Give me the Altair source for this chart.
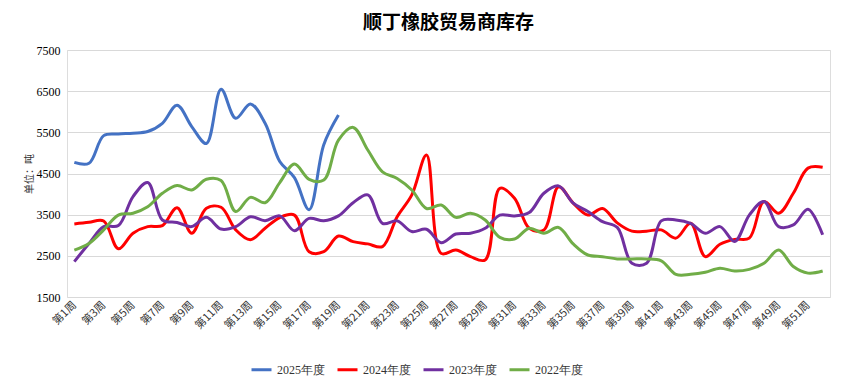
import altair as alt
import pandas as pd

weeks = [f"第{i}周" for i in range(1, 53)]
label_weeks = [f"第{i}周" for i in range(1, 53, 2)]

s2025 = [4770, 4750, 5420, 5460, 5480, 5520, 5720, 6160, 5640, 5230, 6545, 5840, 6190, 5720, 4790, 4400, 3620, 5200, 5920]
s2024 = [3275, 3315, 3345, 2670, 3050, 3210, 3235, 3670, 3050, 3655, 3680, 3130, 2890, 3170, 3430, 3490, 2600, 2600, 2980, 2845,
         2790, 2725, 3450, 3980, 4950, 2560, 2640, 2480, 2400, 4140, 3900, 3170, 3130, 4180, 3780, 3490, 3650, 3300, 3100, 3100,
         3130, 2930, 3290, 2480, 2780, 2900, 2930, 3820, 3535, 4020, 4630, 4650]
s2023 = [2360, 2800, 3210, 3235, 3940, 4280, 3370, 3310, 3210, 3435, 3150, 3210, 3450, 3355, 3470, 3110, 3410, 3350, 3470, 3790,
         3980, 3290, 3350, 3090, 3145, 2820, 3030, 3050, 3170, 3490, 3470, 3550, 4020, 4200, 3780, 3575, 3330, 3190, 2320, 2320,
         3350, 3370, 3290, 3050, 3210, 2850, 3490, 3820, 3210, 3250, 3630, 3010]
s2022 = [2640, 2800, 3130, 3490, 3535, 3690, 4020, 4210, 4100, 4360, 4330, 3575, 3920, 3790, 4280, 4730, 4360, 4340, 5310, 5620,
         5070, 4540, 4380, 4100, 3650, 3735, 3435, 3535, 3370, 2950, 2910, 3170, 3050, 3190, 2790, 2520, 2480, 2425, 2425, 2425,
         2380, 2050, 2050, 2100, 2200, 2130, 2170, 2320, 2640, 2240, 2080, 2130]

series_names = ["2025年度", "2024年度", "2023年度", "2022年度"]
series_vals = [s2025, s2024, s2023, s2022]
colors = ["#4472C4", "#FF0000", "#7030A0", "#70AD47"]

rows = []
for k, (name, vals) in enumerate(zip(series_names, series_vals)):
    for i, v in enumerate(vals):
        rows.append({"week": weeks[i], "series": name, "value": v, "order": k})
df = pd.DataFrame(rows)

chart = alt.Chart(df).mark_line(
    interpolate="catmull-rom", strokeWidth=3
).encode(
    x=alt.X("week:N", sort=weeks,
            scale=alt.Scale(type="point", padding=0.5),
            axis=alt.Axis(title=None, values=label_weeks, labelAngle=-45, labelAlign="right",
                          labelBaseline="middle", labelFont="Noto Sans CJK SC", labelFontSize=11,
                          labelColor="#333333", domain=False, ticks=False, grid=False,
                          labelPadding=6)),
    y=alt.Y("value:Q",
            scale=alt.Scale(domain=[1500, 7500], nice=False, zero=False),
            axis=alt.Axis(title="单位：吨", values=[1500, 2500, 3500, 4500, 5500, 6500, 7500], format="d",
                          labelFont="Liberation Serif", labelFontSize=12, labelColor="#000000",
                          titleFont="Noto Sans CJK SC", titleFontSize=10, titleFontWeight="normal",
                          titleColor="#333333", titlePadding=2,
                          domain=False, ticks=False, grid=True, gridColor="#D9D9D9",
                          gridWidth=1, labelPadding=7)),
    color=alt.Color("series:N", sort=series_names,
                    scale=alt.Scale(domain=series_names, range=colors),
                    legend=alt.Legend(title=None, orient="none", direction="horizontal",
                                      legendX=183, legendY=308, symbolType="stroke",
                                      symbolStrokeWidth=3, symbolSize=400,
                                      labelFont="Liberation Serif", labelFontSize=12,
                                      labelColor="#333333", columnPadding=6)),
    order=alt.Order("order:Q")
).properties(
    width=763, height=247,
    padding={"left": 59, "top": 42, "right": 12, "bottom": 86},
    autosize=alt.AutoSizeParams(type="none"),
    title=alt.TitleParams("顺丁橡胶贸易商库存", font="Noto Sans CJK SC", fontSize=19,
                          fontWeight="bold", color="#000000", anchor="middle", offset=11)
).configure_view(stroke=None).configure(background="white")

chart.save("out.html", embed_options={"renderer": "svg", "actions": False})
